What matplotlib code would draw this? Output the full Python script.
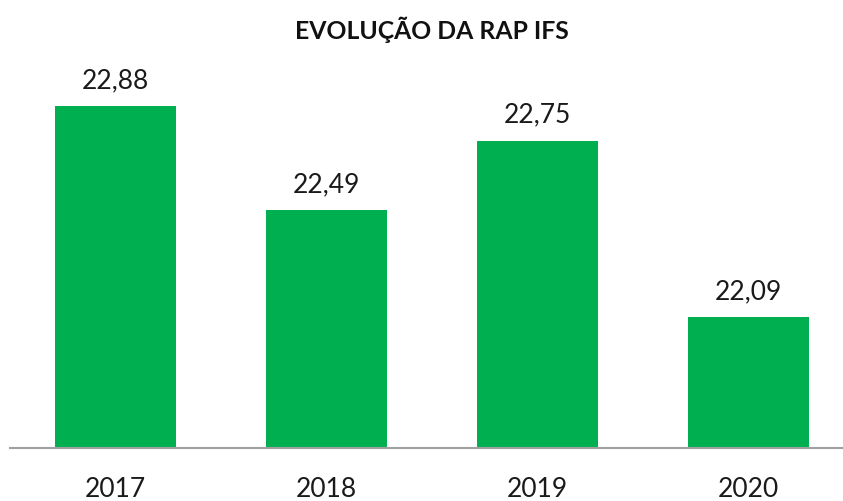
import matplotlib.pyplot as plt

anos = ["2017", "2018", "2019", "2020"]
rap = [22.88, 22.49, 22.75, 22.09]
rotulos = ["22,88", "22,49", "22,75", "22,09"]

plt.rcParams['font.family'] = ['Lato', 'DejaVu Sans']

fig = plt.figure(figsize=(8.43, 5.02), dpi=100)
# axes from x=10px to 854px, y from 0 to 449px (top)
ax = fig.add_axes([10/843, (502-449)/502, 844/843, 449/502])

x = range(len(anos))
bars = ax.bar(x, rap, width=0.57, color="#00B050", bottom=0)
ax.set_xlim(-0.5, 3.5)
ax.set_ylim(21.6, 23.281)

for xi, v, t in zip(x, rap, rotulos):
    ax.annotate(t, (xi, v), xytext=(0, 13.7), textcoords="offset points",
                ha="center", va="baseline", fontsize=19, color="#1a1a1a")

ax.set_xticks(list(x))
ax.set_xticklabels(anos, fontsize=19, color="#1a1a1a")
ax.tick_params(axis="x", length=0, pad=20)
ax.set_yticks([])
for s in ["top", "left", "right"]:
    ax.spines[s].set_visible(False)
ax.spines["bottom"].set_color("#a0a0a0")
ax.spines["bottom"].set_linewidth(1.5)

fig.text(432/843, 1 - 30/502, "EVOLUÇÃO DA RAP IFS", ha="center", va="center",
         fontsize=17.8, fontweight="bold", color="#111111")

fig.savefig("out.png", dpi=100)
